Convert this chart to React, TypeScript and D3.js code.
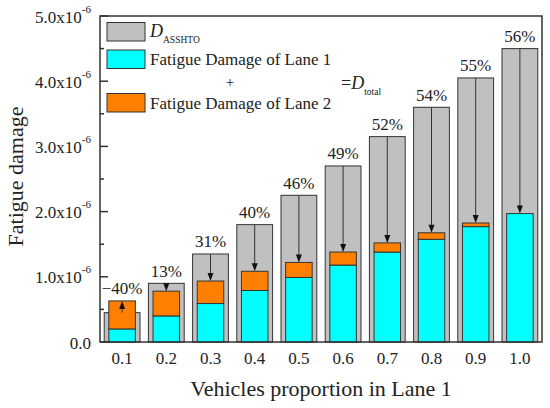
import { useEffect, useRef } from 'react'
import * as d3 from 'd3'

// values in units of 1e-6
const categories = ['0.1', '0.2', '0.3', '0.4', '0.5', '0.6', '0.7', '0.8', '0.9', '1.0']
const dAashto = [0.45, 0.9, 1.35, 1.8, 2.25, 2.7, 3.15, 3.6, 4.05, 4.5]
const lane1 = [0.2, 0.4, 0.59, 0.79, 0.99, 1.18, 1.38, 1.575, 1.77, 1.97]
const lane2 = [0.43, 0.38, 0.345, 0.295, 0.23, 0.2, 0.14, 0.1, 0.055, 0]
const pctLabels = ['\u221240%', '13%', '31%', '40%', '46%', '49%', '52%', '54%', '55%', '56%']
const yTicks = [0, 1, 2, 3, 4, 5]

const FONT = '"Liberation Serif", "Times New Roman", serif'
const INK = '#333'

export default function App() {
  const ref = useRef<SVGSVGElement | null>(null)
  useEffect(() => {
    document.body.style.margin = '0'
    const width = 550
    const height = 408
    const margin = { top: 16, right: 8, bottom: 66, left: 100 }
    const svg = d3.select(ref.current).attr('width', width).attr('height', height)
    svg.selectAll('*').remove()
    svg.append('rect').attr('width', width).attr('height', height).attr('fill', '#fff')

    const xL = margin.left
    const xR = width - margin.right
    const yB = height - margin.bottom
    const yT = margin.top
    const x = d3.scaleBand().domain(categories).range([xL, xR]).padding(0)
    const y = d3.scaleLinear().domain([0, 5]).range([yB, yT])
    const bw = x.bandwidth()

    const bars = svg.append('g')
    categories.forEach((c, i) => {
      const cx = (x(c) ?? 0) + bw / 2
      const total = lane1[i] + lane2[i]
      const gw = bw * 0.81
      const sw = bw * 0.6
      bars.append('rect')
        .attr('x', cx - gw / 2).attr('y', y(dAashto[i]))
        .attr('width', gw).attr('height', yB - y(dAashto[i]))
        .attr('fill', '#c0c0c0').attr('stroke', INK).attr('stroke-width', 1)
      bars.append('rect')
        .attr('x', cx - sw / 2).attr('y', y(lane1[i]))
        .attr('width', sw).attr('height', yB - y(lane1[i]))
        .attr('fill', '#00ffff').attr('stroke', INK).attr('stroke-width', 1)
      if (lane2[i] > 0) {
        bars.append('rect')
          .attr('x', cx - sw / 2).attr('y', y(total))
          .attr('width', sw).attr('height', y(lane1[i]) - y(total))
          .attr('fill', '#ff8000').attr('stroke', INK).attr('stroke-width', 1)
      }
      // arrow from D_AASHTO top to D_total top
      const ys = y(dAashto[i])
      const ye = y(total)
      const dir = ye > ys ? 1 : -1
      bars.append('line')
        .attr('x1', cx).attr('x2', cx).attr('y1', ys).attr('y2', ye - dir * 6)
        .attr('stroke', INK).attr('stroke-width', 1)
      bars.append('path')
        .attr('d', `M${cx},${ye}L${cx - 3},${ye - dir * 8}L${cx + 3},${ye - dir * 8}Z`)
        .attr('fill', '#111')
      bars.append('text')
        .attr('x', cx).attr('y', y(Math.max(dAashto[i], total)) - 6.5)
        .attr('text-anchor', 'middle').attr('font-family', FONT).attr('font-size', 17).attr('fill', '#222')
        .text(pctLabels[i])
    })

    // frame
    svg.append('rect')
      .attr('x', xL).attr('y', yT).attr('width', xR - xL).attr('height', yB - yT)
      .attr('fill', 'none').attr('stroke', INK).attr('stroke-width', 1.5)

    // y ticks
    const ax = svg.append('g')
    y.ticks(10).forEach((v) => {
      const major = Math.abs(v - Math.round(v)) < 1e-9
      ax.append('line')
        .attr('x1', xL).attr('x2', xL + (major ? 8 : 4)).attr('y1', y(v)).attr('y2', y(v))
        .attr('stroke', INK).attr('stroke-width', 1.5)
    })
    yTicks.forEach((v) => {
      const t = ax.append('text')
        .attr('x', xL - 9).attr('y', y(v) + 6.5)
        .attr('text-anchor', 'end').attr('font-family', FONT).attr('font-size', 17).attr('fill', '#222')
      if (v === 0) {
        t.text('0.0')
      } else {
        t.append('tspan').text(`${v.toFixed(1)}x10`)
        t.append('tspan').attr('font-size', 11).attr('dy', -10).text('-6')
      }
    })

    // x tick labels
    categories.forEach((c) => {
      ax.append('text')
        .attr('x', (x(c) ?? 0) + bw / 2).attr('y', yB + 21.5)
        .attr('text-anchor', 'middle').attr('font-family', FONT).attr('font-size', 17).attr('fill', '#222')
        .text(c)
    })

    // axis titles
    svg.append('text')
      .attr('x', (xL + xR) / 2).attr('y', 396)
      .attr('text-anchor', 'middle').attr('font-family', FONT).attr('font-size', 22).attr('fill', '#222')
      .text('Vehicles proportion in Lane 1')
    svg.append('text')
      .attr('transform', `translate(23,${(yT + yB) / 2 - 2.5}) rotate(-90)`)
      .attr('text-anchor', 'middle').attr('font-family', FONT).attr('font-size', 22).attr('fill', '#222')
      .text('Fatigue damage')

    // legend
    const lg = svg.append('g').attr('font-family', FONT).attr('fill', '#222')
    const boxes = [
      { y: 22.5, fill: '#c0c0c0' },
      { y: 50, fill: '#00ffff' },
      { y: 93.5, fill: '#ff8000' },
    ]
    boxes.forEach((b) => {
      lg.append('rect').attr('x', 107).attr('y', b.y).attr('width', 38).attr('height', 18.5)
        .attr('fill', b.fill).attr('stroke', INK).attr('stroke-width', 1)
    })
    const t1 = lg.append('text').attr('x', 150).attr('y', 37).attr('font-size', 18)
    t1.append('tspan').attr('font-style', 'italic').text('D')
    t1.append('tspan').attr('font-size', 9.5).attr('dy', 6).text('ASSHTO')
    lg.append('text').attr('x', 150).attr('y', 65).attr('font-size', 17).text('Fatigue Damage of Lane 1')
    lg.append('text').attr('x', 230).attr('y', 87).attr('text-anchor', 'middle').attr('font-size', 15).text('+')
    lg.append('text').attr('x', 150).attr('y', 108.5).attr('font-size', 17).text('Fatigue Damage of Lane 2')
    const t2 = lg.append('text').attr('x', 341).attr('y', 88.5).attr('font-size', 18)
    t2.append('tspan').text('=')
    t2.append('tspan').attr('font-style', 'italic').text('D')
    t2.append('tspan').attr('font-size', 9.5).attr('dy', 6).text('total')
  }, [])
  return <svg ref={ref} style={{ display: 'block' }} />
}
